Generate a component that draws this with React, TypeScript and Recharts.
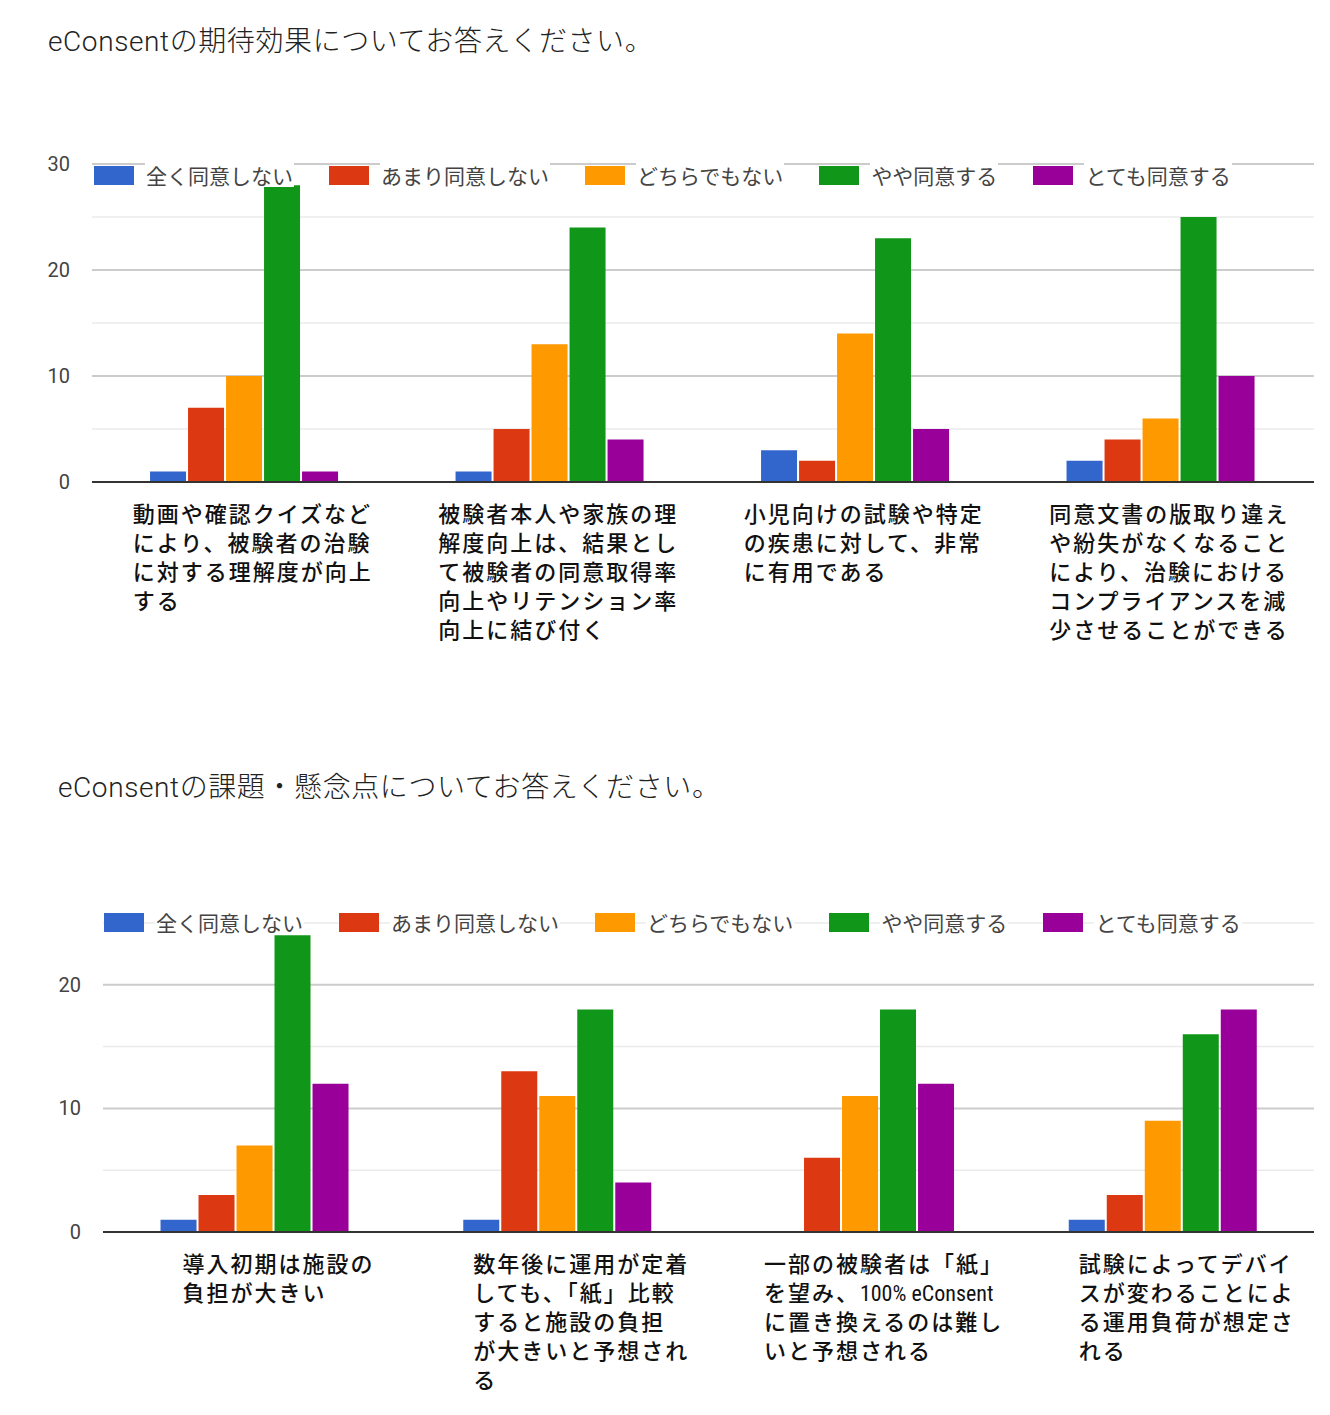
import React from 'react';
import { BarChart, Bar, XAxis, YAxis, CartesianGrid, Legend } from 'recharts';

const seriesNames = ['全く同意しない', 'あまり同意しない', 'どちらでもない', 'やや同意する', 'とても同意する'];
const seriesColors = ['#3366cc', '#dc3912', '#ff9900', '#109618', '#990099'];
const seriesKeys = ['s1', 's2', 's3', 's4', 's5'];

// Chart 1: expected effects
const effectTitle = 'eConsentの期待効果についてお答えください。';
const effectCategories = [
  '動画や確認クイズなど\nにより、被験者の治験\nに対する理解度が向上\nする',
  '被験者本人や家族の理\n解度向上は、結果とし\nて被験者の同意取得率\n向上やリテンション率\n向上に結び付く',
  '小児向けの試験や特定\nの疾患に対して、非常\nに有用である',
  '同意文書の版取り違え\nや紛失がなくなること\nにより、治験における\nコンプライアンスを減\n少させることができる',
];
const effectStronglyDisagree = [1, 1, 3, 2];
const effectDisagree = [7, 5, 2, 4];
const effectNeutral = [10, 13, 14, 6];
const effectAgree = [28, 24, 23, 25];
const effectStronglyAgree = [1, 4, 5, 10];
const effectTicks = [0, 5, 10, 15, 20, 25, 30];
const effectMinorTicks = [5, 15, 25];
const effectMajorTicks = [10, 20, 30];

// Chart 2: issues / concerns
const concernTitle = 'eConsentの課題・懸念点についてお答えください。';
const concernCategories = [
  '導入初期は施設の\n負担が大きい',
  '数年後に運用が定着\nしても、「紙」比較\nすると施設の負担\nが大きいと予想され\nる',
  '一部の被験者は「紙」\nを望み、100% eConsent\nに置き換えるのは難し\nいと予想される',
  '試験によってデバイ\nスが変わることによ\nる運用負荷が想定さ\nれる',
];
const concernStronglyDisagree = [1, 1, 0, 1];
const concernDisagree = [3, 13, 6, 3];
const concernNeutral = [7, 11, 11, 9];
const concernAgree = [24, 18, 18, 16];
const concernStronglyAgree = [12, 4, 12, 18];
const concernTicks = [0, 5, 10, 15, 20, 25];
const concernMinorTicks = [5, 15, 25];
const concernMajorTicks = [10, 20];

const buildRows = (cats: string[], cols: number[][]) =>
  cats.map((c, i) => {
    const row: any = { name: c };
    seriesKeys.forEach((k, j) => {
      row[k] = cols[j][i];
    });
    return row;
  });

const effectData = buildRows(effectCategories, [
  effectStronglyDisagree,
  effectDisagree,
  effectNeutral,
  effectAgree,
  effectStronglyAgree,
]);
const concernData = buildRows(concernCategories, [
  concernStronglyDisagree,
  concernDisagree,
  concernNeutral,
  concernAgree,
  concernStronglyAgree,
]);

const JP = '"Noto Sans CJK JP", "Noto Sans", sans-serif';
const LATIN_JP = 'Roboto, "Noto Sans CJK JP", sans-serif';

const lineWidth = (s: string) => {
  let w = 0;
  for (const ch of s) w += ch.charCodeAt(0) < 128 ? 11 : 24;
  return w;
};

const splitRuns = (s: string) => {
  const runs: { t: string; latin: boolean }[] = [];
  for (const ch of s) {
    const latin = ch.charCodeAt(0) < 128;
    const last = runs[runs.length - 1];
    if (last && last.latin === latin) last.t += ch;
    else runs.push({ t: ch, latin });
  }
  return runs;
};

const makeXTick = (shift: number) => (props: any) => {
  const { x, y, payload } = props;
  const lines = String(payload.value).split('\n');
  const w = Math.max(...lines.map(lineWidth));
  const sx = x - w / 2 + shift;
  return (
    <text x={sx} y={y} fontSize={22} fill="#111" fontFamily={JP} fontWeight={500} textAnchor="start">
      {lines.map((l, i) => (
        <tspan key={i} x={sx} dy={i === 0 ? 32 : 29}>
          {splitRuns(l).map((r, j) => (
            <tspan
              key={j}
              style={{ letterSpacing: r.latin ? '0px' : '2px' }}
              fontFamily={r.latin ? '"Liberation Sans Narrow", "Roboto Condensed", Roboto, sans-serif' : JP}
              fontWeight={r.latin ? 400 : 500}
            >
              {r.t}
            </tspan>
          ))}
        </tspan>
      ))}
    </text>
  );
};

const YTick = (props: any) => {
  const { x, y, payload } = props;
  if (payload.value % 10 !== 0) return <g />;
  return (
    <text x={x} y={y} dy={7} textAnchor="end" fontSize={20} fill="#444" fontFamily="Roboto, Arial, sans-serif">
      {payload.value}
    </text>
  );
};

const LegendContent = () => (
  <div style={{ display: 'flex', alignItems: 'center', fontFamily: JP, fontSize: 21, color: '#444', fontWeight: 400 }}>
    {seriesNames.map((n, i) => (
      <div key={n} style={{ display: 'flex', alignItems: 'center', marginRight: 35 }}>
        <span style={{ width: 40, height: 19, background: seriesColors[i], display: 'inline-block' }} />
        <span style={{ marginLeft: 11, background: '#fff', lineHeight: '24px', padding: '0 1px' }}>{n}</span>
      </div>
    ))}
  </div>
);

type ChartProps = {
  data: any[];
  width: number;
  height: number;
  margin: any;
  yWidth: number;
  xHeight: number;
  domain: [number, number];
  ticks: number[];
  minor: number[];
  major: number[];
  legendTop: number;
  legendLeft: number;
  labelShift: number;
};

const GroupedChart = (p: ChartProps) => (
  <BarChart
    width={p.width}
    height={p.height}
    data={p.data}
    margin={p.margin}
    barCategoryGap="19%"
    barGap={2}
  >
    <CartesianGrid vertical={false} horizontalValues={p.minor} stroke="#ebebeb" strokeWidth={1.5} />
    <CartesianGrid vertical={false} horizontalValues={p.major} stroke="#cccccc" strokeWidth={2} />
    <XAxis
      dataKey="name"
      interval={0}
      height={p.xHeight}
      tickLine={false}
      axisLine={{ stroke: '#333', strokeWidth: 2 }}
      tick={makeXTick(p.labelShift)}
    />
    <YAxis
      width={p.yWidth}
      domain={p.domain}
      ticks={p.ticks}
      axisLine={false}
      tickLine={false}
      tickMargin={16}
      tick={<YTick />}
      allowDataOverflow
    />
    <Legend
      layout="vertical"
      align="center"
      verticalAlign="middle"
      content={<LegendContent />}
      wrapperStyle={{ top: p.legendTop, left: p.legendLeft, width: 'auto', height: 'auto' }}
    />
    {seriesKeys.map((k, i) => (
      <Bar key={k} dataKey={k} name={seriesNames[i]} fill={seriesColors[i]} isAnimationActive={false} />
    ))}
  </BarChart>
);

const titleStyle: React.CSSProperties = {
  position: 'absolute',
  fontFamily: LATIN_JP,
  fontSize: 28,
  letterSpacing: '0.6px',
  lineHeight: '30px',
  color: '#222',
  fontWeight: 300,
  whiteSpace: 'nowrap',
};

export default function App() {
  return (
    <div style={{ position: 'absolute', left: 0, top: 0, width: 1330, height: 1415, background: '#fff', overflow: 'hidden' }}>
      <div style={{ ...titleStyle, left: 48, top: 27 }}>{effectTitle}</div>
      <div style={{ position: 'absolute', left: 0, top: 100 }}>
        <GroupedChart
          data={effectData}
          width={1330}
          height={600}
          margin={{ top: 64, right: 16, left: 0, bottom: 18 }}
          yWidth={92}
          xHeight={200}
          domain={[0, 30]}
          ticks={effectTicks}
          minor={effectMinorTicks}
          major={effectMajorTicks}
          legendTop={63}
          legendLeft={94}
          labelShift={8}
        />
      </div>
      <div style={{ ...titleStyle, left: 58, top: 773 }}>{concernTitle}</div>
      <div style={{ position: 'absolute', left: 0, top: 850 }}>
        <GroupedChart
          data={concernData}
          width={1330}
          height={565}
          margin={{ top: 73, right: 16, left: 0, bottom: 8 }}
          yWidth={103}
          xHeight={175}
          domain={[0, 25]}
          ticks={concernTicks}
          minor={concernMinorTicks}
          major={concernMajorTicks}
          legendTop={60}
          legendLeft={104}
          labelShift={24}
        />
      </div>
    </div>
  );
}
